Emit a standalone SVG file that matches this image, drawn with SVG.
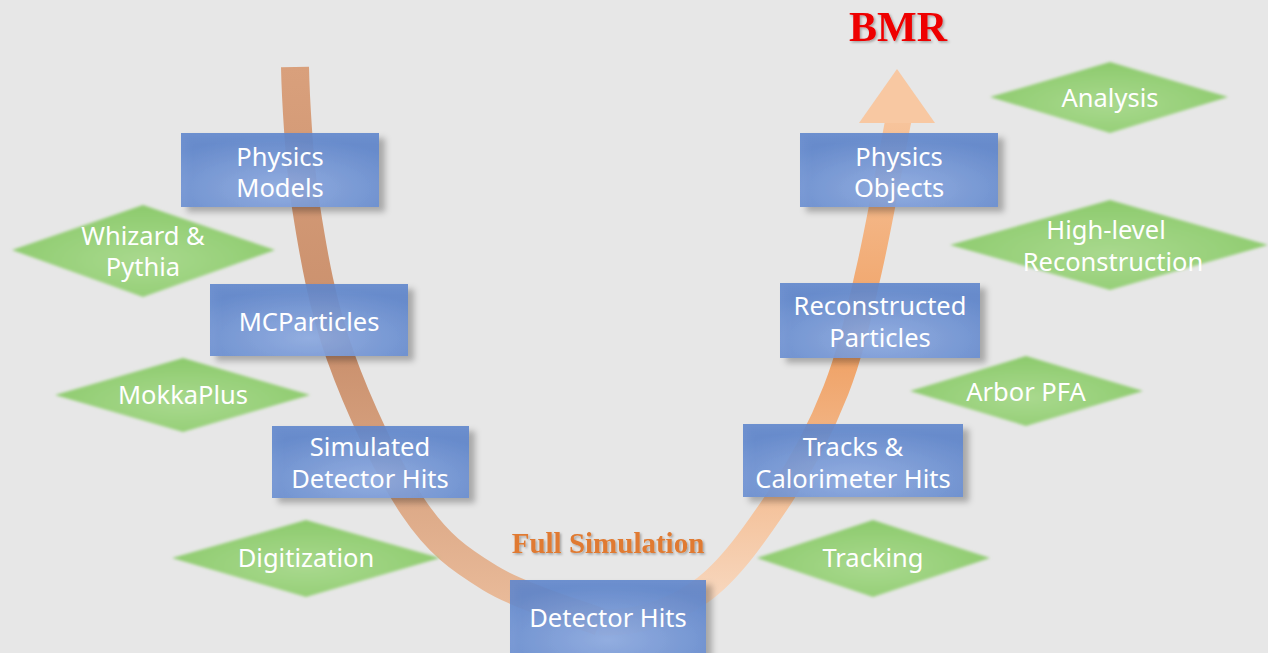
<svg xmlns="http://www.w3.org/2000/svg" width="1268" height="653" viewBox="0 0 1268 653">
<defs>
<style>
.box{fill:url(#boxg);fill-opacity:0.9;filter:url(#sh)}
.dia{fill:url(#diag);filter:url(#soft)}
.t{font-family:"Noto Sans","Open Sans",sans-serif;font-size:25.5px;fill:#ffffff;text-anchor:middle}
.title{font-family:"Liberation Serif","Times New Roman",serif;font-weight:bold;text-anchor:middle}
</style>
<radialGradient id="boxg" cx="0.5" cy="0.75" r="0.7">
<stop offset="0" stop-color="#8eabe2"/>
<stop offset="1" stop-color="#5f86cc"/>
</radialGradient>
<radialGradient id="diag" cx="0.5" cy="0.6" r="0.6">
<stop offset="0" stop-color="#a9d98e"/>
<stop offset="1" stop-color="#8cca6c"/>
</radialGradient>
<linearGradient id="lg" gradientUnits="userSpaceOnUse" x1="0" y1="67" x2="0" y2="620">
<stop offset="0" stop-color="#d9a07c"/>
<stop offset="0.5" stop-color="#c98f6c"/>
<stop offset="1" stop-color="#ebbd9c"/>
</linearGradient>
<linearGradient id="rg" gradientUnits="userSpaceOnUse" x1="0" y1="622" x2="0" y2="120">
<stop offset="0" stop-color="#f8dcc6"/>
<stop offset="0.55" stop-color="#efa063"/>
<stop offset="1" stop-color="#f7c49c"/>
</linearGradient>
<filter id="sh" x="-10%" y="-20%" width="130%" height="150%">
<feDropShadow dx="6" dy="5" stdDeviation="3" flood-color="#000" flood-opacity="0.3"/>
</filter>
<filter id="soft" x="-5%" y="-10%" width="110%" height="120%">
<feGaussianBlur stdDeviation="1.5"/>
</filter>
<filter id="tsh" x="-10%" y="-20%" width="130%" height="150%">
<feDropShadow dx="1.5" dy="1.5" stdDeviation="1" flood-color="#000" flood-opacity="0.3"/>
</filter>
</defs>
<rect x="0" y="0" width="1268" height="653" fill="#e7e7e7"/>

<g id="connectors">
<path d="M295 67 C295.5 90 298.5 159 306 207 C313.5 255 322.2 305 340 355 C357.8 405 388 469.8 413 507 C438 544.2 458.8 558.8 490 578 C521.2 597.2 581.7 614.7 600 622" fill="none" stroke="url(#lg)" stroke-width="28"/>
<path d="M600 622 C635 624.3 670 612.8 700 592 C730 571.2 757.3 530.7 780 497 C802.7 463.3 821.2 427.8 836 390 C850.8 352.2 858.7 314.7 869 270 C879.3 225.3 893.2 146.7 898 122 L899 118" fill="none" stroke="url(#rg)" stroke-width="26"/>
<polygon points="859,123 897,69 935,123" fill="#f8c8a2"/>
</g>

<g id="n-physics-models"><rect class="box" x="181" y="133" width="198" height="74"/><text class="t" x="280" y="166">Physics</text><text class="t" x="280" y="197">Models</text></g>
<g id="n-mcparticles"><rect class="box" x="210" y="284" width="198" height="72"/><text class="t" x="309" y="331">MCParticles</text></g>
<g id="n-sim-hits"><rect class="box" x="272" y="426" width="197" height="72"/><text class="t" x="370" y="456">Simulated</text><text class="t" x="370" y="488">Detector Hits</text></g>
<g id="n-detector-hits"><rect class="box" x="510" y="580" width="196" height="80"/><text class="t" x="608" y="627">Detector Hits</text></g>
<g id="n-tracks"><rect class="box" x="743" y="424" width="220" height="73"/><text class="t" x="853" y="456">Tracks &amp;</text><text class="t" x="853" y="488">Calorimeter Hits</text></g>
<g id="n-reco"><rect class="box" x="780" y="283" width="200" height="75"/><text class="t" x="880" y="315">Reconstructed</text><text class="t" x="880" y="347">Particles</text></g>
<g id="n-physics-objects"><rect class="box" x="800" y="133" width="198" height="74"/><text class="t" x="899" y="166">Physics</text><text class="t" x="899" y="197">Objects</text></g>

<g id="d-whizard"><polygon class="dia" points="12,250 143,205 275,250 143,297"/><text class="t" x="143" y="245">Whizard &amp;</text><text class="t" x="143" y="276">Pythia</text></g>
<g id="d-mokka"><polygon class="dia" points="55,395 183,358 310,395 183,432"/><text class="t" x="183" y="404">MokkaPlus</text></g>
<g id="d-digitization"><polygon class="dia" points="172,558 306,520 440,558 306,597"/><text class="t" x="306" y="567">Digitization</text></g>
<g id="d-tracking"><polygon class="dia" points="757,558 873,520 990,558 873,597"/><text class="t" x="873" y="567">Tracking</text></g>
<g id="d-arbor"><polygon class="dia" points="910,391 1026,356 1143,391 1026,426"/><text class="t" x="1026" y="401">Arbor PFA</text></g>
<g id="d-highlevel"><polygon class="dia" points="950,245 1110,200 1268,245 1110,290"/><text class="t" x="1106" y="239">High-level</text><text class="t" x="1113" y="271">Reconstruction</text></g>
<g id="d-analysis"><polygon class="dia" points="990,97 1110,62 1228,97 1110,133"/><text class="t" x="1110" y="107">Analysis</text></g>

<g id="labels">
<text class="title" x="898" y="41" font-size="42" fill="#ee0000" filter="url(#tsh)">BMR</text>
<text class="title" x="608" y="553" font-size="29" fill="#e07a30" filter="url(#tsh)">Full Simulation</text>
</g>
</svg>
